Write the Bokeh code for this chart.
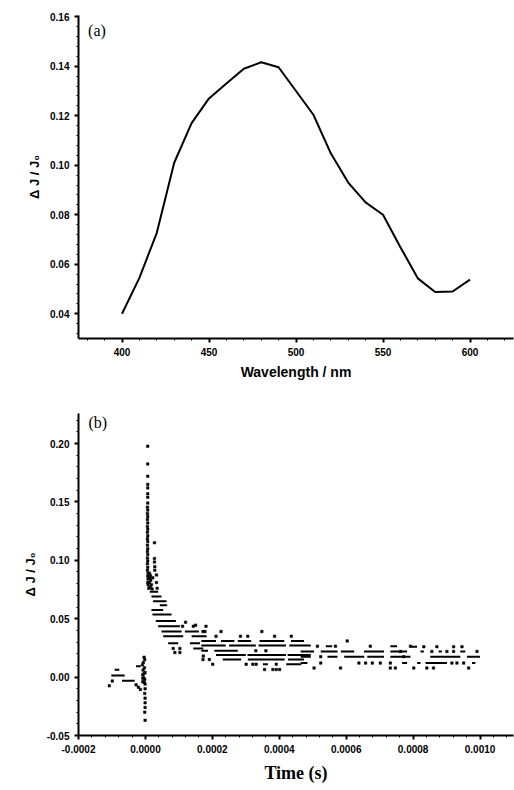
import numpy as np
from bokeh.plotting import figure
from bokeh.layouts import gridplot
from bokeh.models import PrintfTickFormatter, Label, Range1d, Title
from bokeh.embed import file_html
from bokeh.resources import INLINE

# ---------------- panel (a) data ----------------
wavelength_nm = [400, 410, 420, 430, 440, 450, 460, 470, 480, 490, 500,
                 510, 520, 530, 540, 550, 560, 570, 580, 590, 600]
dj_a = [0.0400, 0.0545, 0.0727, 0.1010, 0.1170, 0.1270, 0.1330, 0.1390,
        0.1416, 0.1396, 0.1300, 0.1204, 0.1048, 0.0930, 0.0850, 0.0800,
        0.0669, 0.0543, 0.0488, 0.0490, 0.0538]

# ---------------- panel (b) data (time in microseconds) ----------------
# horizontal runs of consecutive samples at one digitised level
run_t0 = [-102, -92, -70, -28,
          13, 18, 23, 43, 18, 21, 31, 38, 48, 118, 53, 138, 68, 133, 143,
          167, 226, 276, 341, 435,
          167, 250, 338, 430,
          167, 206,
          211, 305, 425,
          231, 306, 426,
          351, 421,
          539, 732,
          464, 524, 584, 653, 732,
          464, 544, 594, 663, 732,
          464, 767,
          792, 822, 876, 941,
          851, 961,
          812, 837, 976]
run_t1 = [-62, -78, -32, -14,
          38, 48, 63, 65, 53, 78, 91, 103, 108, 160, 113, 183, 98, 163, 173,
          211, 266, 316, 415, 474,
          240, 330, 420, 494,
          187, 276,
          300, 420, 494,
          286, 416, 474,
          366, 466,
          558, 752,
          504, 574, 624, 713, 782,
          494, 574, 654, 713, 792,
          484, 782,
          812, 832, 886, 956,
          941, 1000,
          822, 901, 986]
run_v = [0.0014, 0.0063, -0.0031, 0.0092,
         0.0730, 0.0690, 0.0650, 0.0615, 0.0575, 0.0535, 0.0480, 0.0435,
         0.0390, 0.0390, 0.0350, 0.0350, 0.0290, 0.0290, 0.0245,
         0.0310, 0.0310, 0.0310, 0.0310, 0.0310,
         0.0270, 0.0270, 0.0270, 0.0270,
         0.0225, 0.0225,
         0.0190, 0.0190, 0.0190,
         0.0150, 0.0150, 0.0150,
         0.0110, 0.0110,
         0.0265, 0.0265,
         0.0220, 0.0220, 0.0220, 0.0220, 0.0220,
         0.0175, 0.0175, 0.0175, 0.0175, 0.0175,
         0.0120, 0.0120,
         0.0260, 0.0220, 0.0220, 0.0220,
         0.0175, 0.0175,
         0.0120, 0.0120, 0.0120]

# isolated samples
dot_t = [-108, -99, -28, -21, -15,
         -9, -6, -4, -2, -7, -3, -8, -4, -1, -8, -5, -2, -8, -4, -1, -1, -2, -1,
         -1, -1, -2, -1,
         7, 7, 7, 7, 7, 7, 7, 7, 6, 7, 6, 7, 6, 7, 6, 7, 6, 7, 6, 7, 6, 7, 6,
         7, 6, 7, 6, 7, 6, 8, 7, 8, 7, 8,
         27, 27, 27, 28, 28,
         12, 15, 13, 16, 12, 18, 14, 20, 33, 33, 35, 22, 10,
         111, 143, 83, 103, 88, 103, 173, 120, 150,
         181, 172, 178, 226, 348, 211, 284, 306, 386, 436,
         330, 360, 172, 191,
         201, 301, 321, 331, 391,
         356, 381, 391, 401,
         603, 514, 568, 672, 792,
         524, 524, 638, 658, 678, 702, 732,
         504, 583, 732, 747,
         832, 871, 921, 946,
         762, 856, 901, 921, 991,
         772, 916, 931, 951,
         802, 841, 861, 966]
dot_v = [-0.0075, -0.0034, -0.0066, -0.0086, -0.0106,
         0.0105, 0.0125, 0.0170, 0.0150, 0.0060, 0.0080, 0.0020, 0.0030,
         0.0040, -0.0010, -0.0005, -0.0020, -0.0040, -0.0045, -0.0060,
         -0.0100, -0.0140, -0.0180, -0.0220, -0.0260, -0.0300, -0.0370,
         0.1977, 0.1825, 0.1720, 0.1650, 0.1620, 0.1570, 0.1540, 0.1490,
         0.1455, 0.1430, 0.1400, 0.1375, 0.1350, 0.1320, 0.1290, 0.1265,
         0.1240, 0.1210, 0.1185, 0.1160, 0.1130, 0.1100, 0.1075, 0.1050,
         0.1020, 0.0995, 0.0970, 0.0940, 0.0915, 0.0890, 0.0865, 0.0840,
         0.0810, 0.0790,
         0.1150, 0.1015, 0.0985, 0.0945, 0.0915,
         0.0890, 0.0870, 0.0850, 0.0830, 0.0810, 0.0790, 0.0770, 0.0755,
         0.0875, 0.0810, 0.0760, 0.0850, 0.0760,
         0.0435, 0.0435, 0.0245, 0.0245, 0.0210, 0.0210, 0.0180, 0.0470, 0.0445,
         0.0435, 0.0390, 0.0390, 0.0390, 0.0390, 0.0350, 0.0350, 0.0350,
         0.0350, 0.0350,
         0.0225, 0.0225, 0.0150, 0.0150,
         0.0110, 0.0110, 0.0110, 0.0110, 0.0110,
         0.0065, 0.0065, 0.0065, 0.0065,
         0.0310, 0.0265, 0.0265, 0.0265, 0.0265,
         0.0175, 0.0120, 0.0120, 0.0120, 0.0120, 0.0120, 0.0120,
         0.0078, 0.0078, 0.0078, 0.0078,
         0.0260, 0.0260, 0.0260, 0.0260,
         0.0220, 0.0220, 0.0220, 0.0220, 0.0220,
         0.0175, 0.0120, 0.0120, 0.0120,
         0.0078, 0.0078, 0.0078, 0.0078]

US = 1e-6  # microseconds -> seconds
TICK_FONT = "Liberation Sans"
Y_LABEL = "Δ J / J₀"


def style(p, xfmt, yfmt):
    p.xgrid.visible = False
    p.ygrid.visible = False
    p.outline_line_color = None
    p.xaxis.formatter = PrintfTickFormatter(format=xfmt)
    p.yaxis.formatter = PrintfTickFormatter(format=yfmt)
    for ax in (p.xaxis, p.yaxis):
        ax.axis_line_width = 2
        ax.axis_line_color = "black"
        ax.major_tick_line_width = 2
        ax.major_tick_line_color = "black"
        ax.major_tick_in = 0
        ax.major_tick_out = 4
        ax.minor_tick_line_width = 1
        ax.minor_tick_line_color = "black"
        ax.minor_tick_in = 0
        ax.minor_tick_out = 2
        ax.major_label_text_font = TICK_FONT
        ax.major_label_text_font_style = "bold"
        ax.major_label_text_font_size = "10px"
        ax.major_label_text_color = "black"
    p.add_layout(Title(text=Y_LABEL, align="center", text_font="Liberation Sans",
                       text_font_style="bold", text_font_size="13px",
                       text_color="black", standoff=12), "left")


# ---------------- figure (a) ----------------
p1 = figure(width=514, height=395, output_backend="svg", toolbar_location=None,
            x_range=Range1d(375, 625), y_range=Range1d(0.0300, 0.1605),
            min_border_left=78, min_border_right=1, min_border_top=15,
            min_border_bottom=57)
p1.line(wavelength_nm, dj_a, line_color="black", line_width=2)
style(p1, "%d", "%.2f")
p1.add_layout(Title(text="Wavelength / nm", align="center",
                    text_font="Liberation Sans", text_font_style="bold",
                    text_font_size="14px", text_color="black", standoff=6),
              "below")
p1.add_layout(Label(x=380.5, y=0.1544, text="(a)", text_font="Liberation Serif",
                    text_font_size="16px", text_baseline="middle",
                    text_color="black"))

# ---------------- figure (b) ----------------
p2 = figure(width=514, height=395, output_backend="svg", toolbar_location=None,
            x_range=Range1d(-0.0002, 0.0011), y_range=Range1d(-0.05, 0.2257),
            min_border_left=78, min_border_right=1, min_border_top=18,
            min_border_bottom=55)
p2.segment(x0=np.array(run_t0) * US, y0=run_v, x1=np.array(run_t1) * US,
           y1=run_v, line_color="black", line_width=2)
p2.scatter(np.array(dot_t) * US, dot_v, marker="square", size=2.5,
           fill_color="black", line_color="black", line_width=0.5)
style(p2, "%.4f", "%.2f")
p2.add_layout(Title(text="Time (s)", align="center",
                    text_font="Liberation Serif", text_font_style="bold",
                    text_font_size="18px", text_color="black", standoff=10),
              "below")
p2.add_layout(Label(x=-0.00017, y=0.218, text="(b)",
                    text_font="Liberation Serif", text_font_size="16px",
                    text_baseline="middle", text_color="black"))

grid = gridplot([[p1], [p2]], toolbar_location=None)
open("out.html", "w").write(file_html(grid, INLINE))
